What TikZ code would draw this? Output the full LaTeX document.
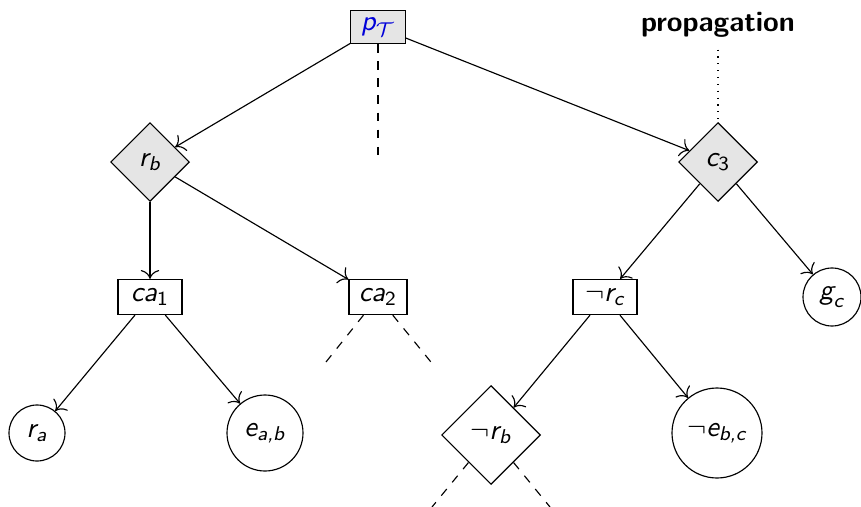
\documentclass[tikz,border=0pt]{standalone}
\usepackage{tikz}
\usetikzlibrary{shapes.geometric, arrows.meta}
\usepackage{amsmath}
\usepackage{amssymb}
\newcommand{\mv}[1]{\text{\sffamily\itshape #1}}
\newcommand{\mn}[1]{\text{\sffamily #1}}

\begin{document}
\begin{tikzpicture}[x=0.35pt,y=-0.35pt,>={To[scale=1.25]},
  every node/.style={inner sep=0pt},
  fact/.style={draw,rectangle,minimum width=22.4pt,minimum height=12.3pt},
  choice/.style={draw,diamond,aspect=1,fill=black!10,minimum size=27.6pt},
  leaf/.style={draw,circle}]
  \useasboundingbox (0,0) rectangle (861,507);
  \path (378,27) node[fact,fill=black!10,minimum width=19pt,minimum height=11.5pt,text=blue!85!black] (pt) {$\mv{p}_{\mathcal{T}}$}
  (718,25) node (prop) {\sffamily\bfseries propagation}
  (150,162) node[choice] (rb) {$\mv{r}_{\mv{b}}$} (718,162) node[choice] (c3) {$\mv{c}_{\mn{3}}$}
  (150,297) node[fact] (ca1) {$\mv{ca}_{\mn{1}}$} (378,297) node[fact,minimum width=20.3pt] (ca2) {$\mv{ca}_{\mn{2}}$}
  (605,297) node[fact] (nrc) {$\neg\mv{r}_{\mv{c}}$} (832,297) node[leaf,minimum size=20.3pt] (gc) {$\mv{g}_{\mv{c}}$}
  (37,433) node[leaf,minimum size=19.6pt] (ra) {$\mv{r}_{\mv{a}}$} (265,433) node[leaf,minimum size=26.6pt] (eab) {$\mv{e}_{\mv{a,b}}$}
  (491,435) node[choice,fill=white,minimum size=34.6pt] (nrb) {$\neg\mv{r}_{\mv{b}}$}
  (717,433) node[leaf,minimum size=31.5pt] (nebc) {$\neg\mv{e}_{\mv{b,c}}$};
  \coordinate (d0) at (378,162);
  \coordinate (d1) at (322,367); \coordinate (d2) at (435,367);
  \coordinate (d3) at (432,507); \coordinate (d4) at (550,507);
  \draw[->] (pt) -- (rb); \draw[->] (pt) -- (c3);
  \draw[->] (rb) -- (ca1); \draw[->] (rb) -- (ca2);
  \draw[->] (c3) -- (nrc); \draw[->] (c3) -- (gc);
  \draw[->] (ca1) -- (ra); \draw[->] (ca1) -- (eab);
  \draw[->] (nrc) -- (nrb); \draw[->] (nrc) -- (nebc);
  \draw[dashed] (pt) -- (d0);
  \draw[dashed] (ca2) -- (d1); \draw[dashed] (ca2) -- (d2);
  \draw[dashed] (nrb) -- (d3); \draw[dashed] (nrb) -- (d4);
  \draw[dotted,shorten <=4pt] (prop) -- (c3);
\end{tikzpicture}
\end{document}
